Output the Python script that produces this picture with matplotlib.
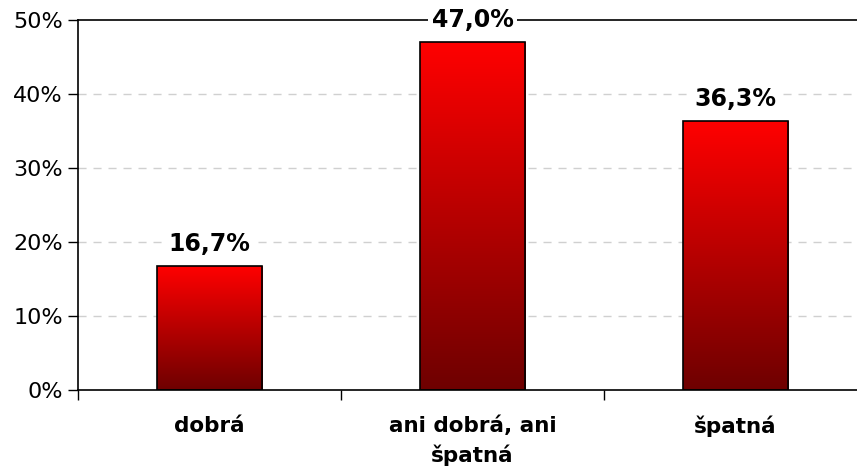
import numpy as np
import matplotlib
matplotlib.use('Agg')
from matplotlib import pyplot as plt
from matplotlib.colors import LinearSegmentedColormap
from matplotlib.ticker import FuncFormatter

categories = ['dobrá', 'ani dobrá, ani\nšpatná', 'špatná']
values = [16.7, 47.0, 36.3]
labels = ['16,7%', '47,0%', '36,3%']

plt.rcParams['font.family'] = ['DejaVu Sans']

fig = plt.figure(figsize=(8.57, 4.68), dpi=100)
ax = fig.add_axes([78 / 857, 78 / 468, 789 / 857, 370 / 468])

x = np.arange(len(categories))
bw = 0.4
bars = ax.bar(x, values, width=bw, color='none', edgecolor='black', linewidth=1.2, zorder=3)

# vertical gradient inside each bar: bright red on top, dark red at bottom
cmap = LinearSegmentedColormap.from_list('redgrad', ['#6e0000', '#ff0000'])
grad = np.linspace(0, 1, 256).reshape(-1, 1)
for b in bars:
    x0 = b.get_x()
    h = b.get_height()
    ax.imshow(grad, cmap=cmap, origin='lower', aspect='auto',
              extent=[x0, x0 + bw, 0, h], zorder=2)

for xi, v, lab in zip(x, values, labels):
    ax.annotate(lab, (xi, v), xytext=(0, 11), textcoords='offset points',
                ha='center', va='baseline', fontsize=17, fontweight='bold',
                bbox=dict(boxstyle='square,pad=0.15', fc='white', ec='none'), zorder=5)

ax.set_xlim(-0.5, 2.5)
ax.set_ylim(0, 50)
ax.set_yticks([0, 10, 20, 30, 40, 50])
ax.yaxis.set_major_formatter(FuncFormatter(lambda v, p: '%d%%' % v))
ax.tick_params(axis='y', labelsize=16, length=7, width=1, direction='out', pad=4)

ax.set_xticks([-0.5, 0.5, 1.5, 2.5])
ax.set_xticklabels([])
ax.set_xticks(x, minor=True)
ax.set_xticklabels(categories, minor=True, fontsize=15.5, fontweight='bold', linespacing=1.5)
ax.tick_params(axis='x', which='major', length=7, width=1, direction='out')
ax.tick_params(axis='x', which='minor', length=0, pad=18.5)

for g in [10, 20, 30, 40]:
    ax.axhline(g, color='#d0d0d0', linestyle=(0, (5.8, 5)), linewidth=1, zorder=1)

ax.spines['right'].set_visible(False)
for s in ['left', 'bottom', 'top']:
    ax.spines[s].set_linewidth(1.2)

fig.savefig('out.png', dpi=100)
